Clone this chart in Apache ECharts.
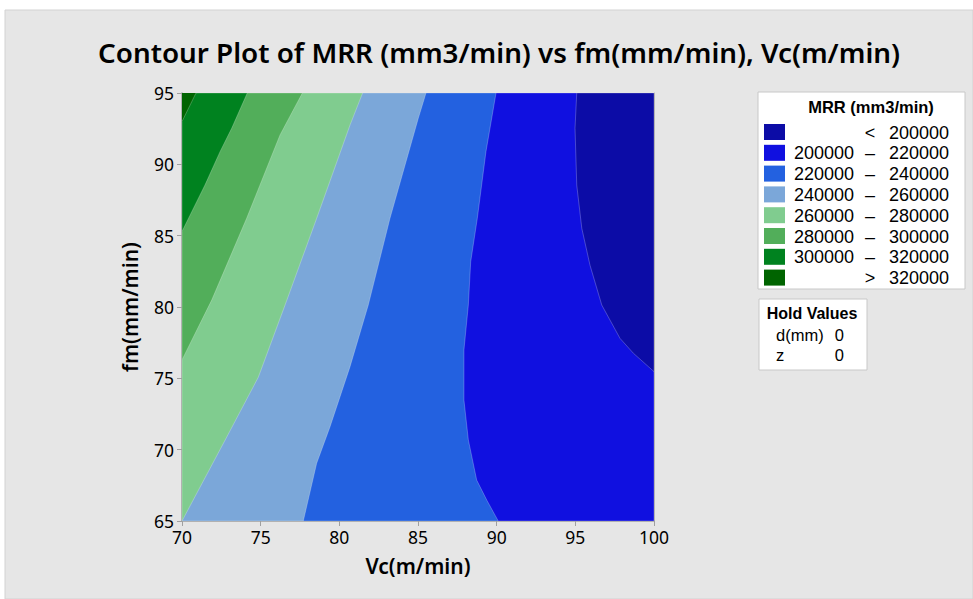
<!DOCTYPE html>
<html>
<head>
<meta charset="utf-8">
<script src="https://cdn.jsdelivr.net/npm/echarts@6/dist/echarts.min.js"></script>
<style>
html,body{margin:0;padding:0;background:#fff;}
#c{width:973px;height:599px;}
</style>
</head>
<body>
<div id="c"></div>
<script>
// ---- data ----
var xTicks = [70, 75, 80, 85, 90, 95, 100];
var yTicks = [65, 70, 75, 80, 85, 90, 95];
// contour lines [Vc, fm], from the top edge downward
var contour320 = [[70.89,95],[70,93.0]];
var contour300 = [[74.15,95],[73.16,92.53],[72.42,90.89],[71.46,88.55],[70,85.3]];
var contour280 = [[77.65,95],[76.23,92.06],[74.11,86.22],[71.89,80.49],[70,76.29]];
var contour260 = [[81.48,95],[80.68,92.76],[78.56,86.22],[76.55,80.14],[74.85,75.08],[72.84,70.88],[70,65]];
var contour240 = [[85.51,95],[85.02,93.23],[83.22,86.22],[81.84,80.14],[80.68,75.82],[79.41,71.61],[78.56,69.05],[77.71,65]];
var contour220 = [[89.96,95],[89.32,90.89],[88.77,86.22],[88.35,83.18],[88.2,80.14],[87.92,76.99],[87.92,73.48],[88.2,70.68],[88.73,67.87],[89.37,66.47],[90.1,65]];
var contour200 = [[95.09,95],[94.98,92.53],[95.09,88.55],[95.41,85.52],[95.93,82.94],[96.68,80.14],[97.84,77.8],[98.69,76.76],[100,75.47]];
var contours = [contour320, contour300, contour280, contour260, contour240, contour220, contour200];
// legend bands, from low to high
var bandLow  = ['', '200000', '220000', '240000', '260000', '280000', '300000', ''];
var bandHigh = ['200000', '220000', '240000', '260000', '280000', '300000', '320000', '320000'];
var bandSign = ['<', '–', '–', '–', '–', '–', '–', '>'];
var bandColors = ['#0c0ca6', '#1010e0', '#2361e0', '#7ba7d9', '#80cc8f', '#52ae5a', '#00821f', '#006400'];
var holdNames = ['d(mm)', 'z'];
var holdValues = ['0', '0'];

(function () {
var X0 = 70, X1 = 100, Y0 = 65, Y1 = 95;

function rightPolygon(line) {
  var pts = line.slice();
  var end = line[line.length - 1];
  if (end[0] <= X0 && end[1] > Y0) { pts.push([X0, Y0], [X1, Y0], [X1, Y1]); }
  else if (end[1] <= Y0) { pts.push([X1, Y0], [X1, Y1]); }
  else { pts.push([X1, Y1]); }
  return pts;
}

var series = [];
series.push({
  type: 'custom', name: 'base', silent: true, clip: true,
  data: [0],
  renderItem: function (params, api) {
    var poly = [[X0,Y1],[X1,Y1],[X1,Y0],[X0,Y0]].map(function(p){return api.coord(p);});
    return {type:'polygon', shape:{points:poly}, style:{fill: bandColors[7], stroke:null}};
  }
});
contours.forEach(function (line, k) {
  var color = bandColors[6 - k];
  series.push({
    type: 'custom', name: 'c' + k, silent: true, clip: true,
    data: [k],
    renderItem: function (params, api) {
      var poly = rightPolygon(line).map(function (p) { return api.coord(p); });
      return {type:'polygon', shape:{points:poly},
        style:{fill: color, stroke:'rgba(255,255,255,0.3)', lineWidth:0.8}};
    }
  });
});

var FONT = '"Noto Sans", sans-serif';
var LFONT = '"Liberation Sans", Arial, sans-serif';
function txt(x, y, s, font, align, lh) {
  return {type:'text', x:x, y:y, style:{text:s, font:font + ' ' + LFONT, fill:'#000',
    align:align, verticalAlign:'middle', lineHeight: lh}};
}
var graphics = [
  {type:'rect', shape:{x:5, y:10, width:968, height:589},
   style:{fill:'#e6e6e6', stroke:'#d2d2d2', lineWidth:1}, z:-10},
  {type:'rect', shape:{x:758, y:92, width:207, height:197},
   style:{fill:'#fff', stroke:'#c8c8c8', lineWidth:1}},
  txt(871, 107, 'MRR (mm3/min)', 'bold 16.5px', 'center', 17)
];
for (var i = 0; i < 8; i++) {
  var ty = 124 + i * 20.8;
  graphics.push({type:'rect', shape:{x:764, y:ty, width:21, height:16}, style:{fill:bandColors[i]}});
  var cy = ty + 8.5;
  if (bandLow[i]) graphics.push(txt(854, cy, bandLow[i], '18px', 'right', 18));
  graphics.push(txt(870, cy, bandSign[i], '18px', 'center', 18));
  graphics.push(txt(949, cy, bandHigh[i], '18px', 'right', 18));
}
graphics.push({type:'rect', shape:{x:759, y:299, width:108, height:71},
  style:{fill:'#fff', stroke:'#c8c8c8', lineWidth:1}});
graphics.push(txt(812, 313, 'Hold Values', 'bold 16px', 'center', 16));
for (var j = 0; j < holdNames.length; j++) {
  var yy = 335 + j * 19.5;
  graphics.push(txt(776, yy, holdNames[j], '16.5px', 'left', 16));
  graphics.push(txt(844, yy, holdValues[j], '16.5px', 'right', 16));
}

var frame = {show: true, lineStyle: {color: '#b4b4b4', width: 1}};
var chart = echarts.init(document.getElementById('c'), null, {renderer:'svg'});
chart.setOption({
  backgroundColor: '#fff',
  animation: false,
  title: {
    text: 'Contour Plot of MRR (mm3/min) vs fm(mm/min), Vc(m/min)',
    left: 494, textAlign: 'center', top: 33,
    textStyle: {fontFamily: FONT, fontWeight: 600, fontSize: 27.8, color: '#000'}
  },
  grid: {left: 182, top: 93, width: 472, height: 428},
  xAxis: [{
    type: 'value', min: X0, max: X1, interval: 5,
    name: 'Vc(m/min)', nameLocation: 'middle', nameGap: 34,
    nameTextStyle: {fontFamily: FONT, fontWeight: 600, fontSize: 21, color: '#000'},
    axisLine: {show: true, lineStyle: {color: '#a0a0a0', width: 1.5}},
    axisTick: {show: true, length: 5, lineStyle: {color: '#a0a0a0'}},
    axisLabel: {fontFamily: FONT, fontSize: 17.5, color: '#000', margin: 7,
      formatter: function (v) { return xTicks.indexOf(v) >= 0 ? String(v) : ''; }},
    splitLine: {show: false}
  }, {
    type: 'value', position: 'top', min: X0, max: X1,
    axisLine: frame, axisTick: {show: false}, axisLabel: {show: false}, splitLine: {show: false}
  }],
  yAxis: [{
    type: 'value', min: Y0, max: Y1, interval: 5,
    name: 'fm(mm/min)', nameLocation: 'middle', nameGap: 42,
    nameTextStyle: {fontFamily: FONT, fontWeight: 600, fontSize: 21, color: '#000'},
    axisLine: {show: true, lineStyle: {color: '#a0a0a0', width: 1.5}},
    axisTick: {show: true, length: 5, lineStyle: {color: '#a0a0a0'}},
    axisLabel: {fontFamily: FONT, fontSize: 17.5, color: '#000', margin: 8,
      formatter: function (v) { return yTicks.indexOf(v) >= 0 ? String(v) : ''; }},
    splitLine: {show: false}
  }, {
    type: 'value', position: 'right', min: Y0, max: Y1,
    axisLine: frame, axisTick: {show: false}, axisLabel: {show: false}, splitLine: {show: false}
  }],
  graphic: graphics,
  series: series
});
})();
</script>
</body>
</html>
